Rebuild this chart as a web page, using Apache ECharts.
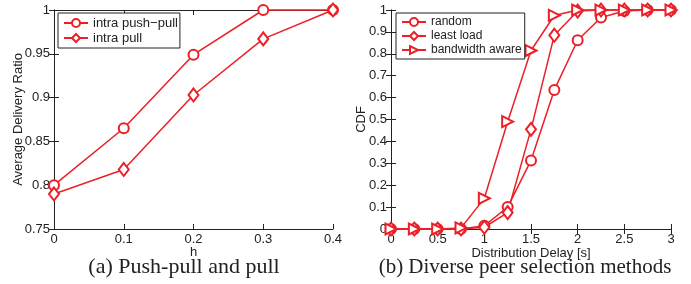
<!DOCTYPE html>
<html>
<head>
<meta charset="utf-8">
<script src="https://cdn.jsdelivr.net/npm/echarts@6/dist/echarts.min.js"></script>
<style>
  html, body { margin: 0; padding: 0; background: #fff; }
  #main { width: 691px; height: 284px; }
</style>
</head>
<body>
<div id="main"></div>
<script>
// (a) push-pull vs pull
const hValues = [0, 0.1, 0.2, 0.3, 0.4]
const pushPull = [0.8, 0.865, 0.949, 1.0, 1.0]
const pullOnly = [0.79, 0.818, 0.903, 0.967, 1.0]

// (b) peer selection CDF
const delays = [0, 0.25, 0.5, 0.75, 1, 1.25, 1.5, 1.75, 2, 2.25, 2.5, 2.75, 3]
const randomCdf = [0, 0, 0, 0, 0.015, 0.1, 0.313, 0.635, 0.862, 0.966, 0.995, 1, 1]
const leastLoadCdf = [0, 0, 0, 0, 0.008, 0.075, 0.455, 0.885, 0.995, 1, 1, 1, 1]
const bandwidthCdf = [0, 0, 0, 0.005, 0.14, 0.49, 0.815, 0.975, 1, 1, 1, 1, 1]

const red = '#ec1f27'
const ink = '#222'
const font = 'Liberation Sans, Arial, sans-serif'
const serif = 'Liberation Serif, Times New Roman, serif'

function pairs(xs, ys) {
    return xs.map((x, i) => [x, ys[i]])
}

function mainAxis(extra) {
    return Object.assign({
        type: 'value',
        axisLine: { show: true, lineStyle: { color: ink, width: 1 } },
        axisTick: { show: true, inside: true, length: 5, lineStyle: { color: ink } },
        axisLabel: { color: ink, fontSize: 13, fontFamily: font, margin: 4 },
        splitLine: { show: false },
        nameTextStyle: { color: ink, fontSize: 13, fontFamily: font },
        nameLocation: 'middle',
        nameMoveOverlap: false,
    }, extra)
}

function mirrorAxis(extra) {
    return Object.assign({
        type: 'value',
        axisLine: { show: true, lineStyle: { color: ink, width: 1 } },
        axisTick: { show: true, inside: true, length: 5, lineStyle: { color: ink } },
        axisLabel: { show: false },
        splitLine: { show: false },
    }, extra)
}

function lineSeries(name, xi, yi, data, symbol, size, rotate) {
    return {
        name: name,
        type: 'line',
        xAxisIndex: xi,
        yAxisIndex: yi,
        data: data,
        symbol: symbol,
        symbolSize: size,
        symbolRotate: rotate || 0,
        showAllSymbol: true,
        clip: false,
        color: red,
        lineStyle: { color: red, width: 1.5 },
        itemStyle: { color: red, borderColor: red, borderWidth: 1.5 },
        emphasis: { disabled: true },
        animation: false,
    }
}

const myChart = echarts.init(document.getElementById('main'))

const option = {
    backgroundColor: '#fff',
    animation: false,
    title: [
        {
            text: '(a) Push-pull and pull',
            left: 179, top: 251, textAlign: 'center',
            textStyle: { fontFamily: serif, fontSize: 22, fontWeight: 'normal', color: ink },
        },
        {
            text: '(b) Diverse peer selection methods',
            left: 520, top: 252, textAlign: 'center',
            textStyle: { fontFamily: serif, fontSize: 21, fontWeight: 'normal', color: ink },
        },
    ],
    legend: [
        {
            data: ['intra push\u2212pull', 'intra pull'],
            orient: 'vertical',
            left: 58, top: 13,
            itemWidth: 24, itemHeight: 10, itemGap: 1,
            padding: [3, 2, 3, 5],
            backgroundColor: '#fff',
            borderColor: ink, borderWidth: 1, borderRadius: 0,
            textStyle: { color: ink, fontSize: 13, lineHeight: 14, fontFamily: font },
        },
        {
            data: ['random', 'least load', 'bandwidth aware'],
            orient: 'vertical',
            left: 396, top: 13,
            itemWidth: 24, itemHeight: 10, itemGap: 0,
            padding: [2, 3, 2, 5],
            backgroundColor: '#fff',
            borderColor: ink, borderWidth: 1, borderRadius: 0,
            textStyle: { color: ink, fontSize: 12, lineHeight: 14, fontFamily: font },
        },
    ],
    grid: [
        { left: 54, top: 10, width: 279, height: 219, containLabel: false },
        { left: 391, top: 10, width: 280, height: 219, containLabel: false },
    ],
    xAxis: [
        mainAxis({ gridIndex: 0, min: 0, max: 0.4, interval: 0.1, position: 'bottom', name: 'h', nameGap: 17 }),
        mirrorAxis({ gridIndex: 0, min: 0, max: 0.4, interval: 0.1, position: 'top' }),
        mainAxis({ gridIndex: 1, min: 0, max: 3, interval: 0.5, position: 'bottom', name: 'Distribution Delay [s]', nameGap: 18 }),
        mirrorAxis({ gridIndex: 1, min: 0, max: 3, interval: 0.5, position: 'top' }),
    ],
    yAxis: [
        mainAxis({ gridIndex: 0, min: 0.75, max: 1, interval: 0.05, position: 'left', name: 'Average Delivery Ratio', nameGap: 29 }),
        mirrorAxis({ gridIndex: 0, min: 0.75, max: 1, interval: 0.05, position: 'right' }),
        mainAxis({ gridIndex: 1, min: 0, max: 1, interval: 0.1, position: 'left', name: 'CDF', nameGap: 23 }),
        mirrorAxis({ gridIndex: 1, min: 0, max: 1, interval: 0.1, position: 'right' }),
    ],
    series: [
        lineSeries('intra push\u2212pull', 0, 0, pairs(hValues, pushPull), 'emptyCircle', 10),
        lineSeries('intra pull', 0, 0, pairs(hValues, pullOnly), 'emptyDiamond', [10, 13]),
        lineSeries('random', 2, 2, pairs(delays, randomCdf), 'emptyCircle', 10),
        lineSeries('least load', 2, 2, pairs(delays, leastLoadCdf), 'emptyDiamond', [10, 13]),
        lineSeries('bandwidth aware', 2, 2, pairs(delays, bandwidthCdf), 'emptyTriangle', 11, -90),
    ],
}

myChart.setOption(option)
</script>
</body>
</html>
